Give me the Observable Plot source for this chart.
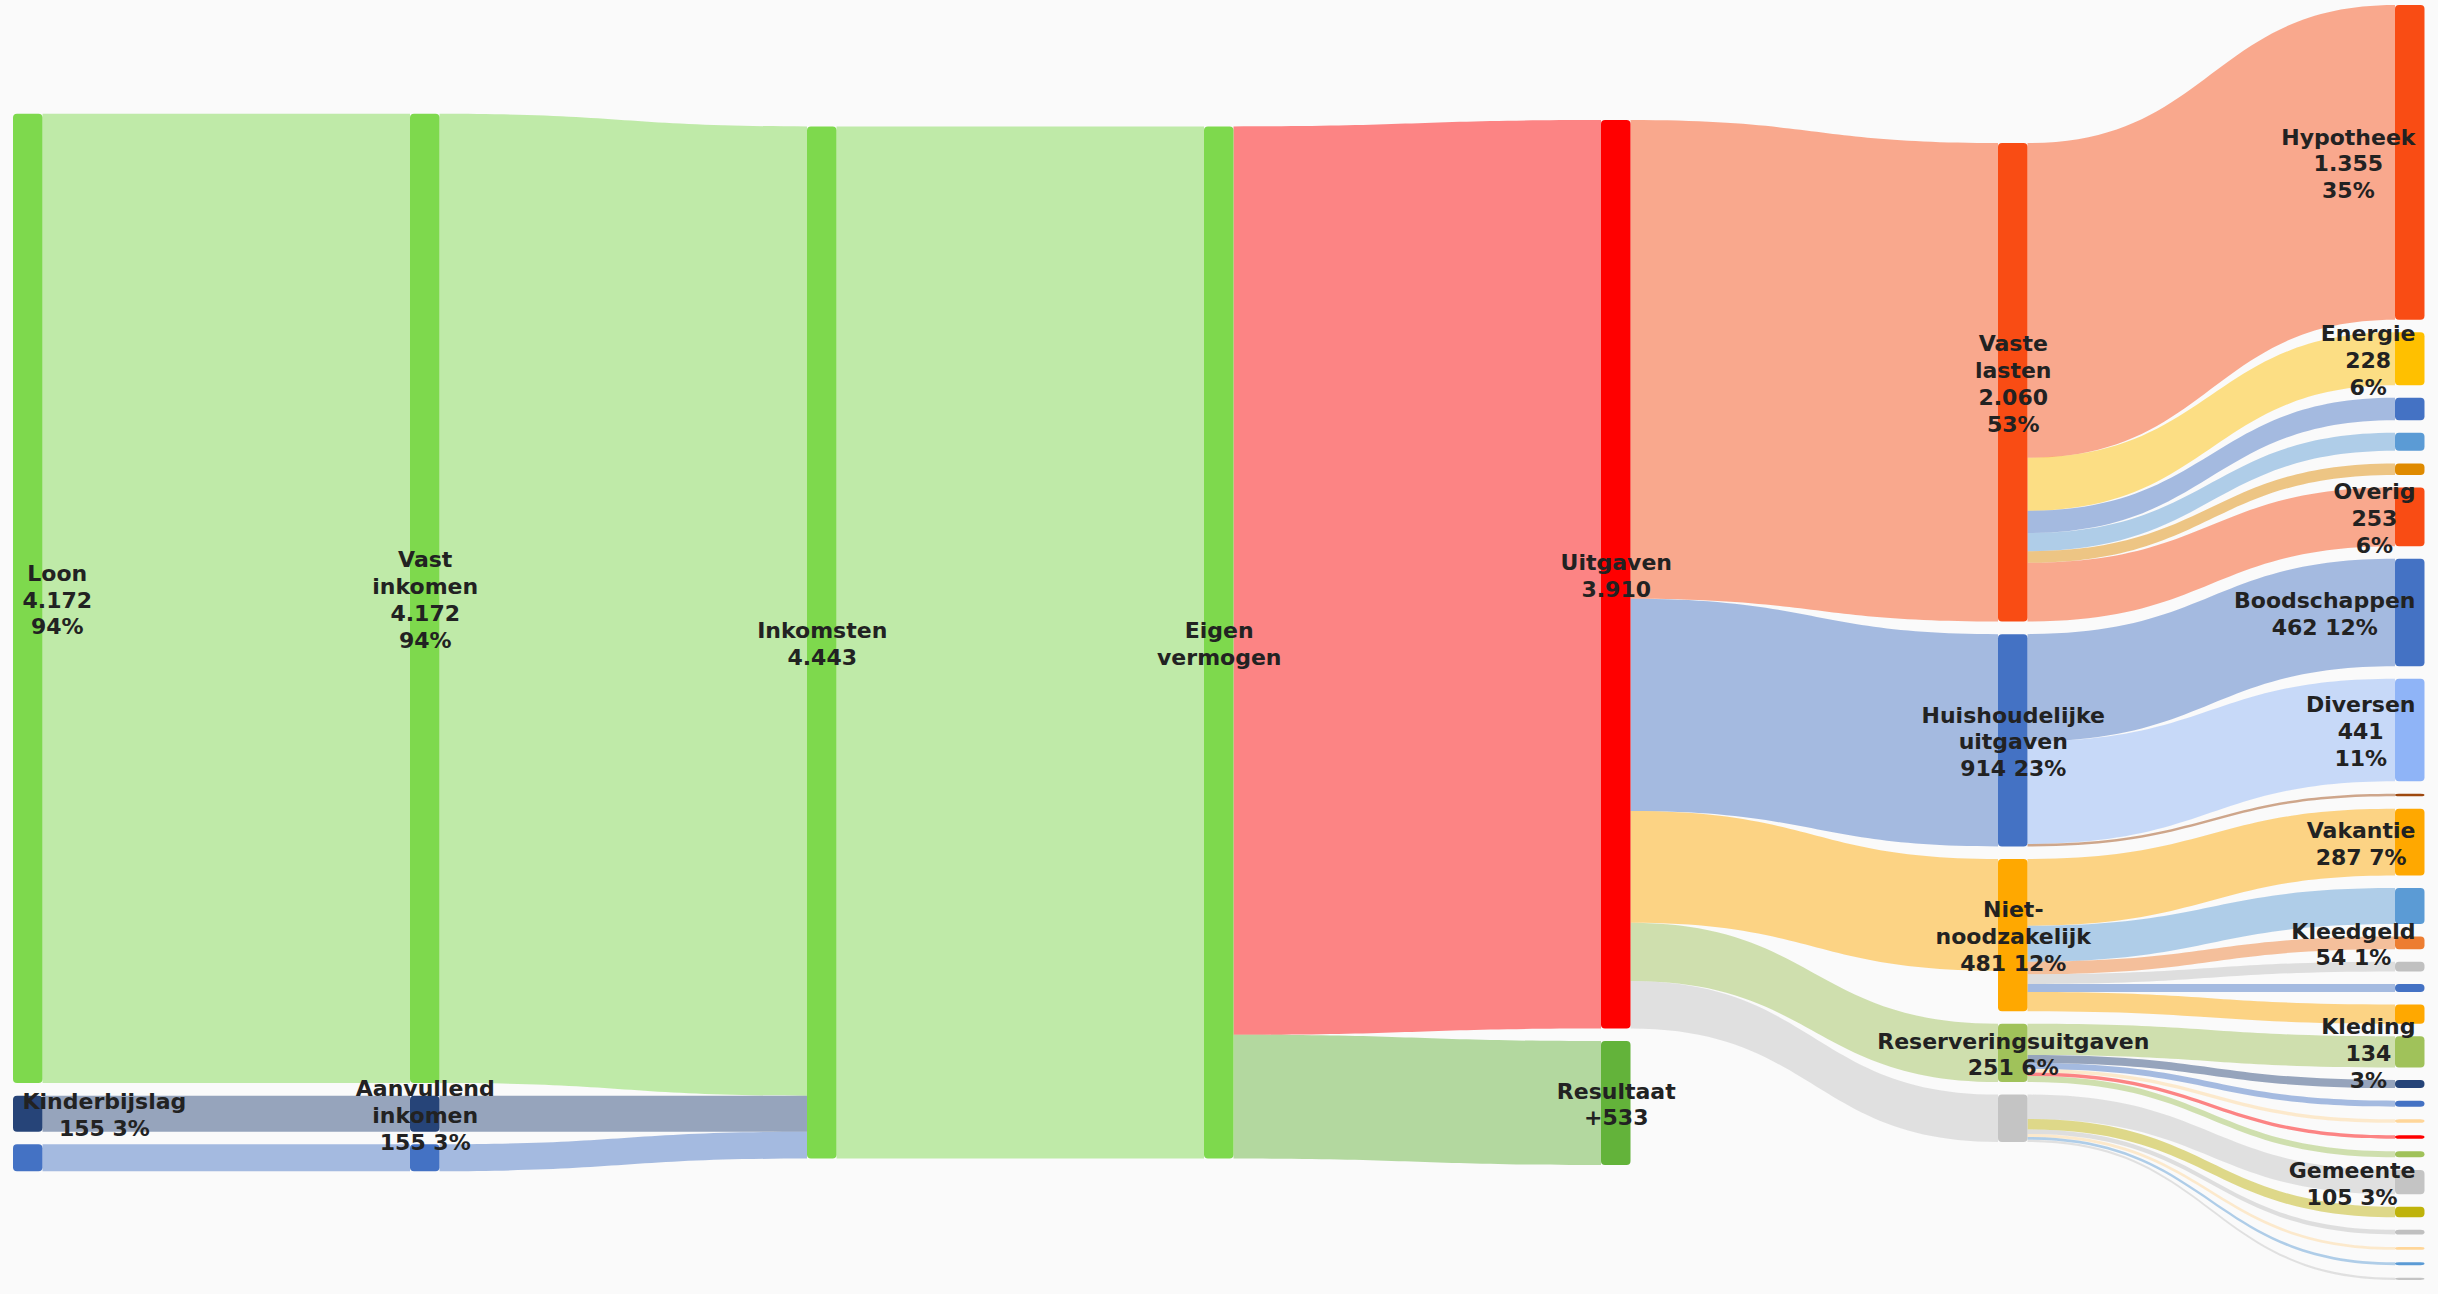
<!DOCTYPE html>
<html>
<head>
<meta charset="utf-8">
<script src="https://cdn.jsdelivr.net/npm/d3@7"></script>
<script src="https://cdn.jsdelivr.net/npm/@observablehq/plot@0.6"></script>
<style>
  html, body { margin: 0; padding: 0; background: #fafafa; }
  #chart svg { display: block; }
</style>
</head>
<body>
<div id="chart"></div>
<script>
// ---------- DATA ----------
const nodeNames = [
  "Loon", "Kinderbijslag", "inkomen_extra",
  "Vast inkomen", "Aanvullend inkomen", "inkomen_extra_2",
  "Inkomsten", "Eigen vermogen",
  "Uitgaven", "Resultaat",
  "Vaste lasten", "Huishoudelijke uitgaven", "Niet-noodzakelijk", "Reserveringsuitgaven", "overig_5",
  "Hypotheek", "Energie", "vl_a", "vl_b", "vl_c", "Overig",
  "Boodschappen", "Diversen", "hh_a",
  "Vakantie", "nn_a", "Kleedgeld", "nn_b", "nn_c", "nn_d",
  "Kleding", "rs_a", "rs_b", "rs_c", "rs_d", "rs_e",
  "Gemeente", "ov_a", "ov_b", "ov_c", "ov_d", "ov_e"
];
const nodeColumns = [
  0, 0, 0,
  1, 1, 1,
  2, 3,
  4, 4,
  5, 5, 5, 5, 5,
  6, 6, 6, 6, 6, 6,
  6, 6, 6,
  6, 6, 6, 6, 6, 6,
  6, 6, 6, 6, 6, 6,
  6, 6, 6, 6, 6, 6
];
const nodeColors = [
  "#7ED94D", "#264478", "#4472C4",
  "#7ED94D", "#264478", "#4472C4",
  "#7ED94D", "#7ED94D",
  "#FF0000", "#63B33A",
  "#F94C14", "#4472C4", "#FFA800", "#A0C25A", "#C4C4C4",
  "#F94C14", "#FFC000", "#4472C4", "#5B9BD5", "#DF8A00", "#F94C14",
  "#4472C4", "#8FB4F7", "#9E480E",
  "#FFA800", "#5B9BD5", "#ED7D31", "#C0C0C0", "#4472C4", "#FFA800",
  "#A0C25A", "#264478", "#4472C4", "#FFD699", "#FF0000", "#A0C25A",
  "#C4C4C4", "#BFB30B", "#C0C0C0", "#FFD699", "#5B9BD5", "#C4C4C4"
];
// label templates: {v} = value, {p} = percentage
const nodeLabels = [
  "Loon\n{v}\n{p}", "Kinderbijslag\n{v} {p}", "",
  "Vast\ninkomen\n{v}\n{p}", "Aanvullend\ninkomen\n{v} {p}", "",
  "Inkomsten\n{v}", "Eigen\nvermogen",
  "Uitgaven\n{v}", "Resultaat\n+{v}",
  "Vaste\nlasten\n{v}\n{p}", "Huishoudelijke\nuitgaven\n{v} {p}", "Niet-\nnoodzakelijk\n{v} {p}", "Reserveringsuitgaven\n{v} {p}", "",
  "Hypotheek\n{v}\n{p}", "Energie\n{v}\n{p}", "", "", "", "Overig\n{v}\n{p}",
  "Boodschappen\n{v} {p}", "Diversen\n{v}\n{p}", "",
  "Vakantie\n{v} {p}", "", "Kleedgeld\n{v} {p}", "", "", "",
  "Kleding\n{v}\n{p}", "", "", "", "", "",
  "Gemeente\n{v} {p}", "", "", "", "", ""
];

const linkSources = [
  0, 1, 2,
  3, 4, 5,
  6,
  7, 7,
  8, 8, 8, 8, 8,
  10, 10, 10, 10, 10, 10,
  11, 11, 11,
  12, 12, 12, 12, 12, 12,
  13, 13, 13, 13, 13, 13,
  14, 14, 14, 14, 14, 14
];
const linkTargets = [
  3, 4, 5,
  6, 6, 6,
  7,
  8, 9,
  10, 11, 12, 13, 14,
  15, 16, 17, 18, 19, 20,
  21, 22, 23,
  24, 25, 26, 27, 28, 29,
  30, 31, 32, 33, 34, 35,
  36, 37, 38, 39, 40, 41
];
const linkValues = [
  4172, 155, 116,
  4172, 155, 116,
  4443,
  3910, 533,
  2060, 914, 481, 251, 204,
  1355, 228, 96, 78, 50, 253,
  462, 441, 11,
  287, 155, 54, 42, 34, 83,
  134, 35, 26, 15, 15, 26,
  105, 45, 20, 12, 12, 10
];

// ---------- LAYOUT (sankey, computed in value units) ----------
const W = 2438, H = 1294;
const NODE_W = 0.0743;   // node width in column units
const PAD = 54;          // vertical gap between nodes, in value units

const nodes = nodeNames.map((name, i) => ({
  i, name, col: nodeColumns[i], color: nodeColors[i], label: nodeLabels[i],
  inV: 0, outV: 0, ins: [], outs: []
}));
const links = linkValues.map((v, j) => ({
  j, value: v, source: nodes[linkSources[j]], target: nodes[linkTargets[j]]
}));
links.forEach(l => {
  l.source.outs.push(l); l.target.ins.push(l);
  l.source.outV += l.value; l.target.inV += l.value;
});
nodes.forEach(n => n.value = Math.max(n.inV, n.outV));

const cols = d3.groups(nodes, n => n.col).sort((a, b) => a[0] - b[0]).map(d => d[1]);
const colTotals = cols.map(c => d3.sum(c, n => n.value) + (c.length - 1) * PAD);
const maxTotal = d3.max(colTotals);
cols.forEach((c, ci) => {
  let y = (maxTotal - colTotals[ci]) / 2;
  c.forEach(n => { n.y0 = y; n.y1 = y + n.value; y = n.y1 + PAD; });
});
nodes.forEach(n => {
  let y = n.y0;
  n.outs.slice().sort((a, b) => a.target.y0 - b.target.y0).forEach(l => { l.sy0 = y; l.sy1 = y + l.value; y += l.value; });
  y = n.y0;
  n.ins.slice().sort((a, b) => a.source.y0 - b.source.y0).forEach(l => { l.ty0 = y; l.ty1 = y + l.value; y += l.value; });
});

// income-side links take the colour of their source, expense-side links of their target
const linkColor = l => (l.target.col <= 3 ? l.source.color : l.target.color);
const linkRows = links.flatMap(l => [
  {id: l.j, x: l.source.col + NODE_W, y1: l.sy0, y2: l.sy1, color: linkColor(l)},
  {id: l.j, x: l.target.col, y1: l.ty0, y2: l.ty1, color: linkColor(l)}
]);
const nodeRows = nodes.map(n => ({x1: n.col, x2: n.col + NODE_W, y1: n.y0, y2: n.y1, color: n.color}));

// ---------- LABELS ----------
const numFmt = d3.formatLocale({decimal: ",", thousands: ".", grouping: [3], currency: ["€", ""]}).format(",d");
const inkomsten = nodes[6].inV, uitgaven = nodes[8].inV;
const FONT_SIZE = 22;
const FONT = `bold ${FONT_SIZE}px "DejaVu Sans"`;
const ctx = document.createElement("canvas").getContext("2d");
ctx.font = FONT;

const xDomain = [0, 6 + NODE_W];
const xRange = [13, 2424.5];
const yDomain = [0, maxTotal];
const yRange = [5, 1280];
const LABEL_MIN = 22, LABEL_MAX = 2415;
const toPx = v => xRange[0] + (v - xDomain[0]) / (xDomain[1] - xDomain[0]) * (xRange[1] - xRange[0]);
const fromPx = p => xDomain[0] + (p - xRange[0]) / (xRange[1] - xRange[0]) * (xDomain[1] - xDomain[0]);

const labelRows = nodes.filter(n => n.label).map(n => {
  const base = n.col <= 1 ? inkomsten : uitgaven;
  const shown = n.inV || n.outV;   // displayed amount = what flows into the node
  const text = n.label
    .replace("{v}", numFmt(shown))
    .replace("{p}", Math.round(100 * shown / base) + "%");
  const w = d3.max(text.split("\n"), s => ctx.measureText(s).width);
  let px = toPx(n.col + NODE_W / 2);
  px = Math.max(LABEL_MIN + w / 2, Math.min(LABEL_MAX - w / 2, px));
  return {x: fromPx(px), y: (n.y0 + n.y1) / 2, text};
});

// ---------- PLOT ----------
const chart = Plot.plot({
  width: W,
  height: H,
  margin: 0,
  style: {background: "#fafafa"},
  x: {domain: xDomain, range: xRange, axis: null},
  y: {domain: yDomain, range: yRange, axis: null},
  color: {type: "identity"},
  marks: [
    Plot.area(linkRows, {x1: "x", y1: "y1", y2: "y2", z: "id", fill: "color", fillOpacity: 0.47, curve: "bump-x"}),
    Plot.rect(nodeRows, {x1: "x1", x2: "x2", y1: "y1", y2: "y2", fill: "color", rx: 4}),
    Plot.text(labelRows, {
      x: "x", y: "y", text: "text",
      fontSize: FONT_SIZE, fontWeight: "bold", fontFamily: "DejaVu Sans",
      fill: "#222", lineHeight: 1.22, textAnchor: "middle"
    })
  ]
});
document.getElementById("chart").appendChild(chart);
</script>
</body>
</html>
